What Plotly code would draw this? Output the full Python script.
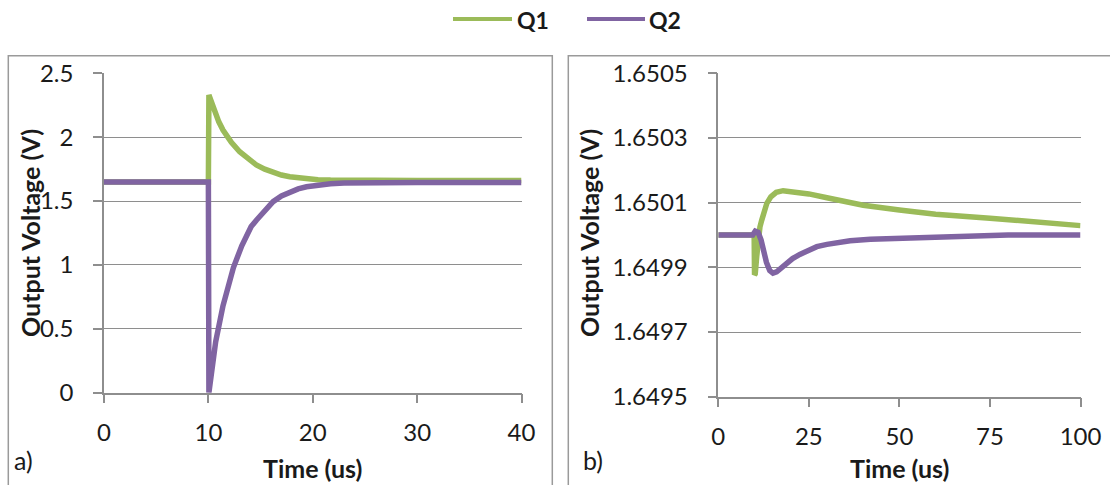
import plotly.graph_objects as go

# ---- data -------------------------------------------------------------
series_names = ["Q1", "Q2"]
series_colors = ["#9BBB59", "#8064A2"]

# panel a) : 0-40 us, full-scale view
a_q1_t = [0, 10.0, 10.05, 10.5, 11.0, 11.4, 12.2, 13.0, 13.8, 14.6, 15.4, 16.2, 17.0, 17.8, 18.6,
          19.4, 20.5, 21.7, 23.0, 25.0, 30.0, 35.0, 40.0]
a_q1_v = [1.65, 1.65, 2.33, 2.22, 2.12, 2.056, 1.96, 1.886, 1.83, 1.782, 1.75, 1.722, 1.704, 1.69,
          1.68, 1.672, 1.667, 1.664, 1.662, 1.66, 1.66, 1.66, 1.66]

a_q2_t = [0, 10.0, 10.05, 10.3, 10.7, 11.4, 12.4, 13.2, 14.1, 14.6, 15.4, 16.2, 17.0, 17.8, 18.6,
          19.4, 20.5, 21.7, 23.0, 25.0, 30.0, 35.0, 40.0]
a_q2_v = [1.65, 1.65, 0.0, 0.13, 0.40, 0.68, 0.98, 1.15, 1.30, 1.35, 1.43, 1.495, 1.54, 1.573,
          1.595, 1.612, 1.626, 1.636, 1.641, 1.644, 1.645, 1.645, 1.645]

# panel b) : 0-100 us, zoomed around 1.65 V
b_q1_t = [0, 9.9, 10.0, 10.2, 10.6, 11.0, 11.5, 12.0, 12.7, 13.4, 14.5, 16.0, 17.9, 20.0, 25.0,
          30.0, 35.0, 40.0, 50.0, 60.0, 75.0, 90.0, 100.0]
b_q1_v = [1.65, 1.65, 1.649877, 1.649880, 1.649933, 1.649995, 1.650025, 1.650046, 1.650075,
          1.650098, 1.650118, 1.650132, 1.650137, 1.650135, 1.650127, 1.650115, 1.650103,
          1.650092, 1.650077, 1.650064, 1.650052, 1.650039, 1.650029]

b_q2_t = [0, 9.5, 10.2, 11.0, 11.8, 12.5, 13.3, 14.2, 15.1, 16.1, 17.5, 19.0, 20.5, 22.5, 25.0,
          27.2, 30.0, 36.4, 42.0, 50.0, 60.0, 70.0, 80.0, 100.0]
b_q2_v = [1.65, 1.65, 1.650012, 1.650008, 1.649985, 1.649950, 1.649915, 1.649890, 1.649882,
          1.649886, 1.649900, 1.649915, 1.649927, 1.649940, 1.649955, 1.649964, 1.649971,
          1.649982, 1.649987, 1.649990, 1.649993, 1.649996, 1.65, 1.65]

a_x_ticks = [0, 10, 20, 30, 40]
a_y_ticks = [0, 0.5, 1, 1.5, 2, 2.5]
b_x_ticks = [0, 25, 50, 75, 100]
b_y_ticks = [1.6495, 1.6497, 1.6499, 1.6501, 1.6503, 1.6505]

x_title = "Time (us)"
y_title = "Output Voltage (V)"
panel_tags = ["a)", "b)"]

# ---- layout helpers ----------------------------------------------------
W, H = 1110, 485


def px(x):
    return x / W


def py(y):
    return 1 - y / H


GRID = "#8e8e8e"
TEXT = "#1a1a1a"
TICK_FONT = dict(family="Lato", size=24, color=TEXT)
BOLD = dict(family="Lato", size=25, color=TEXT, weight="bold")

fig = go.Figure()

panels = [
    ("x", "y", [(a_q1_t, a_q1_v), (a_q2_t, a_q2_v)]),
    ("x2", "y2", [(b_q1_t, b_q1_v), (b_q2_t, b_q2_v)]),
]
for xa, ya, pairs in panels:
    for (t, v), name, color in zip(pairs, series_names, series_colors):
        fig.add_trace(go.Scatter(x=t, y=v, mode="lines", name=name, xaxis=xa, yaxis=ya,
                                 line=dict(color=color, width=5.5), showlegend=False))

common_x = dict(showgrid=False, zeroline=False, showline=True, linecolor=GRID, linewidth=1.5,
                ticks="outside", ticklen=9, tickcolor=GRID, tickwidth=1.5, automargin=False,
                tickfont=TICK_FONT, ticklabelstandoff=9, fixedrange=True)
common_y = dict(showgrid=True, gridcolor=GRID, gridwidth=1.3, zeroline=False, showline=True,
                linecolor=GRID, linewidth=1.5, ticks="outside", ticklen=9, tickcolor=GRID,
                tickwidth=1.5, tickfont=TICK_FONT, ticklabelstandoff=15, automargin=False,
                fixedrange=True)

fig.update_layout(
    width=W, height=H,
    autosize=False,
    margin=dict(l=0, r=0, t=0, b=0, pad=0, autoexpand=False),
    paper_bgcolor="white", plot_bgcolor="white",
    xaxis=dict(common_x, domain=[px(104), px(521.5)], range=[0, 40],
               tickvals=a_x_ticks, anchor="y"),
    yaxis=dict(common_y, domain=[py(392.7), py(73.3)], range=[0, 2.5],
               tickvals=a_y_ticks, anchor="x"),
    xaxis2=dict(common_x, domain=[px(718.3), px(1080.5)], range=[0, 100],
                tickvals=b_x_ticks, anchor="y2"),
    yaxis2=dict(common_y, domain=[py(396.7), py(73.3)], range=[1.6495, 1.6505],
                tickvals=b_y_ticks, tickformat=".4f", anchor="x2"),
)

shapes = []
annotations = []

# panel frames
for x0, x1 in [(8.3, 552.3), (568.3, 1114)]:
    shapes.append(dict(type="rect", xref="paper", yref="paper",
                       x0=px(x0), x1=px(x1), y0=py(495), y1=py(55.7),
                       line=dict(color="#9a9a9a", width=1.5), fillcolor="rgba(0,0,0,0)",
                       layer="below"))

# legend
for (lx0, lx1, tx), name, color in zip([(453, 512, 515), (587, 645, 647)], series_names,
                                      series_colors):
    shapes.append(dict(type="line", xref="paper", yref="paper",
                       x0=px(lx0), x1=px(lx1), y0=py(19), y1=py(19),
                       line=dict(color=color, width=4)))
    annotations.append(dict(xref="paper", yref="paper", x=px(tx), y=py(20), text=name,
                            showarrow=False, xanchor="left", yanchor="middle",
                            font=dict(family="Lato", size=23, color=TEXT, weight="bold")))

# axis titles and panel tags
for cx, ycx, tag, tagx in [(312.7, 30, panel_tags[0], 12), (899.4, 589, panel_tags[1], 581)]:
    annotations.append(dict(xref="paper", yref="paper", x=px(cx), y=py(468), text=x_title,
                            showarrow=False, xanchor="center", yanchor="middle", font=BOLD))
    annotations.append(dict(xref="paper", yref="paper", x=px(ycx), y=py(233), text=y_title,
                            showarrow=False, xanchor="center", yanchor="middle",
                            textangle=-90, font=BOLD))
    annotations.append(dict(xref="paper", yref="paper", x=px(tagx), y=py(460), text=tag,
                            showarrow=False, xanchor="left", yanchor="middle",
                            font=dict(family="Lato", size=25, color=TEXT)))

fig.update_layout(shapes=shapes, annotations=annotations)

fig.write_html("out.html")
